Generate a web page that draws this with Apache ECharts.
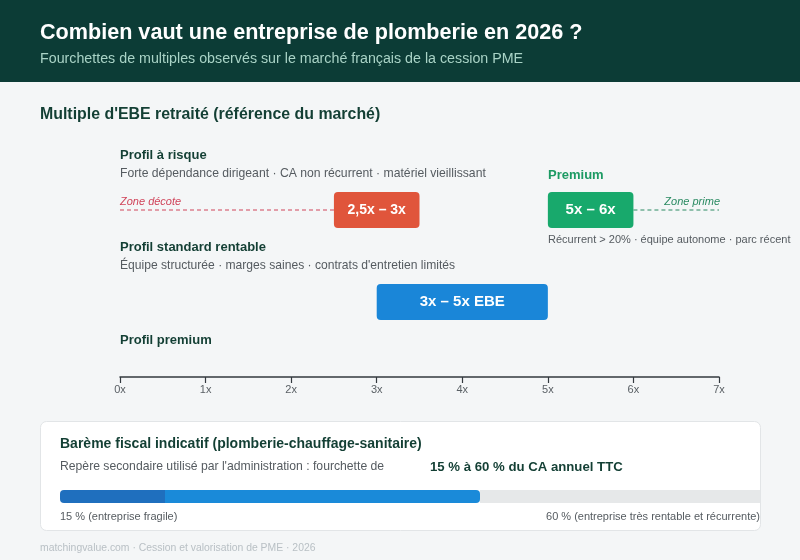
<!DOCTYPE html>
<html>
<head>
<meta charset="utf-8">
<style>
html,body{margin:0;padding:0;background:#f4f6f7;}
#c{width:800px;height:560px;}
</style>
<script src="https://cdn.jsdelivr.net/npm/echarts@6/dist/echarts.min.js"></script>
</head>
<body>
<div id="c"></div>
<script>
// ---- data ----
const lanes = ['Décote / Premium', 'Standard'];
const rangeLabels = ['2,5x – 3x', '3x – 5x EBE', '5x – 6x'];
const rangeStart = [2.5, 3, 5];
const rangeEnd = [3.5, 5, 6];
const rangeLane = [0, 1, 0];
const decoteZone = [0, 2.5];
const primeZone = [6, 7];
const axisTicks = [0, 1, 2, 3, 4, 5, 6, 7];
const fiscalLow = 15;
const fiscalHigh = 60;
const fiscalMax = 100;

const F = '"Liberation Sans", Arial, Helvetica, sans-serif';
const rangeColors = ['#e0553b', '#1a86d8', '#18a96c'];
const rangeFont = [14, 15, 15];
const dark = '#133f34';
const gray = '#555b60';

const chart = echarts.init(document.getElementById('c'), null, {renderer: 'canvas'});

const rangeData = rangeLabels.map((l, i) => [rangeStart[i], rangeEnd[i], rangeLane[i], l]);

function txt(x, y, text, size, color, weight, extra) {
  return {
    type: 'text', x: x, y: y,
    style: Object.assign({text: text, fill: color, font: (weight || 'normal') + ' ' + size + 'px ' + F, textVerticalAlign: 'middle'}, extra || {})
  };
}

const option = {
  backgroundColor: '#f4f6f7',
  animation: false,
  graphic: [
    {type: 'rect', shape: {x: 0, y: 0, width: 800, height: 82}, style: {fill: '#0c3c36'}, z: -10},
    txt(40, 33, 'Combien vaut une entreprise de plomberie en 2026 ?', 21.6, '#ffffff', 'bold'),
    txt(40, 59, 'Fourchettes de multiples observés sur le marché français de la cession PME', 14.25, '#a9d3c6'),
    txt(40, 115, "Multiple d'EBE retraité (référence du marché)", 15.9, dark, 'bold'),
    txt(120, 155, 'Profil à risque', 13, dark, 'bold'),
    txt(120, 174, 'Forte dépendance dirigeant · CA non récurrent · matériel vieillissant', 12.2, gray),
    txt(120, 202, 'Zone décote', 11, '#d0445a', 'italic'),
    txt(548, 175, 'Premium', 13, '#1c9a63', 'bold'),
    txt(720, 202, 'Zone prime', 11, '#2a8a62', 'italic', {textAlign: 'right'}),
    txt(548, 240, 'Récurrent > 20% · équipe autonome · parc récent', 11, gray),
    txt(120, 247, 'Profil standard rentable', 13, dark, 'bold'),
    txt(120, 266, "Équipe structurée · marges saines · contrats d'entretien limités", 12.1, gray),
    txt(120, 340, 'Profil premium', 13, dark, 'bold'),
    {type: 'rect', shape: {x: 40.5, y: 421.5, width: 720, height: 109, r: 6}, style: {fill: '#ffffff', stroke: '#e2e5e7', lineWidth: 1}, z: -5},
    txt(60, 444, 'Barème fiscal indicatif (plomberie-chauffage-sanitaire)', 14, dark, 'bold'),
    txt(60, 467, "Repère secondaire utilisé par l'administration : fourchette de", 12.2, gray),
    txt(430, 467, '15 % à 60 % du CA annuel TTC', 13.2, dark, 'bold'),
    txt(60, 517, '15 % (entreprise fragile)', 11, gray),
    txt(760, 517, '60 % (entreprise très rentable et récurrente)', 11, gray, 'normal', {textAlign: 'right'}),
    txt(40, 548, 'matchingvalue.com · Cession et valorisation de PME · 2026', 10.4, '#b9c0c5')
  ],
  grid: [
    {left: 120, width: 599, top: 164, height: 184},
    {left: 60, width: 700, top: 490, height: 13}
  ],
  xAxis: [
    {
      gridIndex: 0, type: 'value', min: 0, max: 7, interval: 1, offset: 29,
      axisLine: {show: true, lineStyle: {color: '#333a3f', width: 1.5}},
      axisTick: {show: true, length: 6, lineStyle: {color: '#333a3f', width: 1.2}},
      axisLabel: {formatter: v => axisTicks.includes(v) ? v + 'x' : '', color: '#5a6065', fontSize: 11, fontFamily: F, margin: 7},
      splitLine: {show: false}
    },
    {gridIndex: 1, type: 'value', min: 0, max: fiscalMax, show: false}
  ],
  yAxis: [
    {gridIndex: 0, type: 'category', data: lanes, inverse: true, show: false},
    {gridIndex: 1, type: 'category', data: ['fiscal'], show: false}
  ],
  series: [
    {
      type: 'line', xAxisIndex: 0, yAxisIndex: 0, symbol: 'none', silent: true,
      data: [[decoteZone[0], 0], [decoteZone[1], 0]],
      lineStyle: {color: '#d0445a', width: 1, type: [4, 3]}
    },
    {
      type: 'line', xAxisIndex: 0, yAxisIndex: 0, symbol: 'none', silent: true,
      data: [[primeZone[0], 0], [primeZone[1], 0]],
      lineStyle: {color: '#2a8a62', width: 1, type: [4, 3]}
    },
    {
      type: 'custom', xAxisIndex: 0, yAxisIndex: 0, z: 5,
      data: rangeData,
      encode: {x: [0, 1], y: 2},
      renderItem: function (params, api) {
        const s = api.coord([api.value(0), api.value(2)]);
        const e = api.coord([api.value(1), api.value(2)]);
        const h = 36;
        const i = params.dataIndex;
        return {
          type: 'group',
          children: [
            {type: 'rect', shape: {x: s[0], y: s[1] - h / 2, width: e[0] - s[0], height: h, r: 4}, style: {fill: rangeColors[i]}},
            {type: 'text', x: (s[0] + e[0]) / 2, y: s[1], style: {text: rangeLabels[i], fill: '#ffffff', font: 'bold ' + rangeFont[i] + 'px ' + F, textAlign: 'center', textVerticalAlign: 'middle'}}
          ]
        };
      }
    },
    {
      type: 'bar', xAxisIndex: 1, yAxisIndex: 1, stack: 'f', barWidth: 13, silent: true,
      data: [fiscalLow], itemStyle: {color: '#1f6fbe', borderRadius: [4, 0, 0, 4]}
    },
    {
      type: 'bar', xAxisIndex: 1, yAxisIndex: 1, stack: 'f', barWidth: 13, silent: true,
      data: [fiscalHigh - fiscalLow], itemStyle: {color: '#1a8ad9', borderRadius: [0, 4, 4, 0]}
    },
    {
      type: 'bar', xAxisIndex: 1, yAxisIndex: 1, stack: 'f', barWidth: 13, silent: true,
      data: [fiscalMax - fiscalHigh], itemStyle: {color: '#e6e8e9'}
    }
  ]
};
chart.setOption(option);
</script>
</body>
</html>
